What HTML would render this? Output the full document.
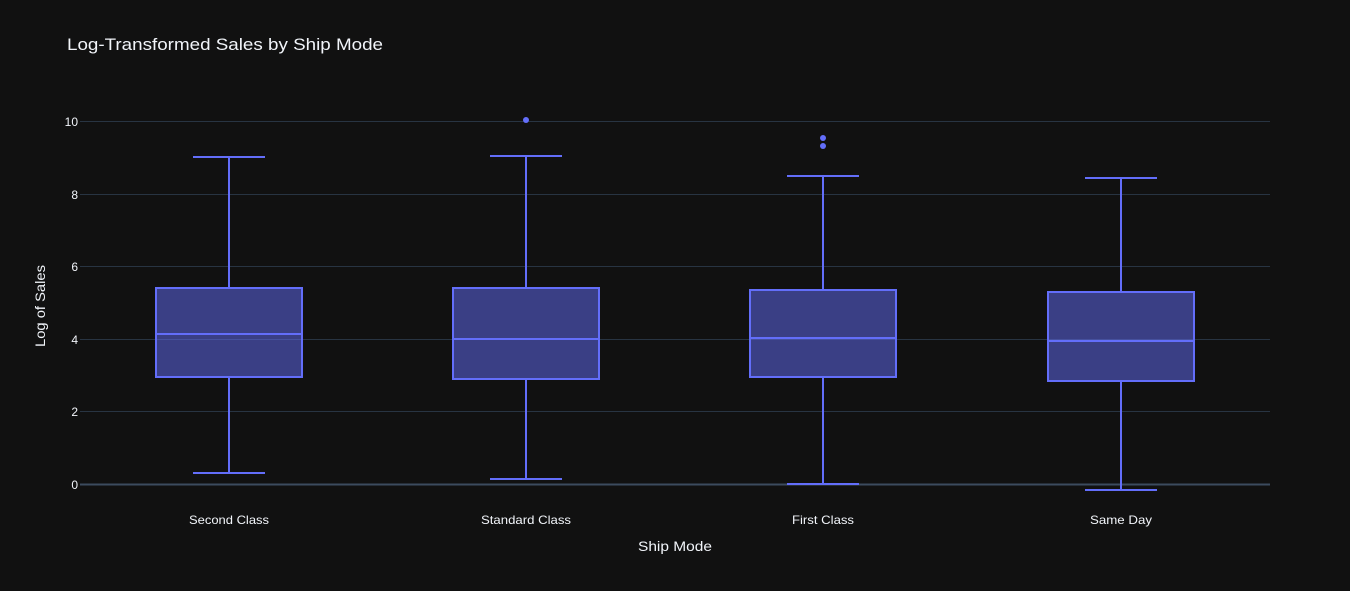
<!DOCTYPE html>
<html><head><meta charset="utf-8"><style>
html,body{margin:0;padding:0;background:#111111;}
svg{display:block;font-family:"Liberation Sans",Arial,sans-serif;}
</style></head><body>
<svg width="1350" height="591" viewBox="0 0 1350 591" xmlns="http://www.w3.org/2000/svg">
<rect width="1350" height="591" fill="#111111"/>
<text x="67" y="50" fill="#f2f5fa" font-size="17" textLength="316" lengthAdjust="spacingAndGlyphs">Log-Transformed Sales by Ship Mode</text>
<g stroke="#283442" stroke-width="1">
<line x1="80" x2="1270" y1="121.5" y2="121.5"/>
<line x1="80" x2="1270" y1="194.5" y2="194.5"/>
<line x1="80" x2="1270" y1="266.5" y2="266.5"/>
<line x1="80" x2="1270" y1="339.5" y2="339.5"/>
<line x1="80" x2="1270" y1="411.5" y2="411.5"/>
</g>
<line x1="80" x2="1270" y1="484.5" y2="484.5" stroke="#3c4b5e" stroke-width="2"/>
<g fill="#f2f5fa" font-size="12" text-anchor="end">
<text x="78" y="126">10</text>
<text x="78" y="199">8</text>
<text x="78" y="271">6</text>
<text x="78" y="344">4</text>
<text x="78" y="416">2</text>
<text x="78" y="489">0</text>
</g>
<g fill="#f2f5fa" font-size="12" text-anchor="middle">
<text x="229" y="524" textLength="80" lengthAdjust="spacingAndGlyphs">Second Class</text>
<text x="526" y="524" textLength="90" lengthAdjust="spacingAndGlyphs">Standard Class</text>
<text x="823" y="524" textLength="62" lengthAdjust="spacingAndGlyphs">First Class</text>
<text x="1121" y="524" textLength="62" lengthAdjust="spacingAndGlyphs">Same Day</text>
</g>
<text x="675" y="551" fill="#f2f5fa" font-size="14" text-anchor="middle" textLength="74" lengthAdjust="spacingAndGlyphs">Ship Mode</text>
<text transform="translate(45,306) rotate(-90)" fill="#f2f5fa" font-size="14" text-anchor="middle" textLength="82" lengthAdjust="spacingAndGlyphs">Log of Sales</text>
<g stroke="#636efa" stroke-width="2" fill="rgba(99,110,250,0.5)">
<line x1="229" x2="229" y1="157" y2="288"/><line x1="229" x2="229" y1="377" y2="473"/>
<line x1="193" x2="265" y1="157" y2="157"/><line x1="193" x2="265" y1="473" y2="473"/>
<rect x="156" y="288" width="146" height="89"/><line x1="156" x2="302" y1="334" y2="334"/>
<line x1="526" x2="526" y1="156" y2="288"/><line x1="526" x2="526" y1="379" y2="479"/>
<line x1="490" x2="562" y1="156" y2="156"/><line x1="490" x2="562" y1="479" y2="479"/>
<rect x="453" y="288" width="146" height="91"/><line x1="453" x2="599" y1="339" y2="339"/>
<line x1="823" x2="823" y1="176" y2="290"/><line x1="823" x2="823" y1="377" y2="484"/>
<line x1="787" x2="859" y1="176" y2="176"/><line x1="787" x2="859" y1="484" y2="484"/>
<rect x="750" y="290" width="146" height="87"/><line x1="750" x2="896" y1="338" y2="338"/>
<line x1="1121" x2="1121" y1="178" y2="292"/><line x1="1121" x2="1121" y1="381" y2="490"/>
<line x1="1085" x2="1157" y1="178" y2="178"/><line x1="1085" x2="1157" y1="490" y2="490"/>
<rect x="1048" y="292" width="146" height="89"/><line x1="1048" x2="1194" y1="341" y2="341"/>
</g>
<g fill="#636efa">
<circle cx="526" cy="120" r="3"/>
<circle cx="823" cy="138" r="3"/>
<circle cx="823" cy="146" r="3"/>
</g>
</svg>
</body></html>
